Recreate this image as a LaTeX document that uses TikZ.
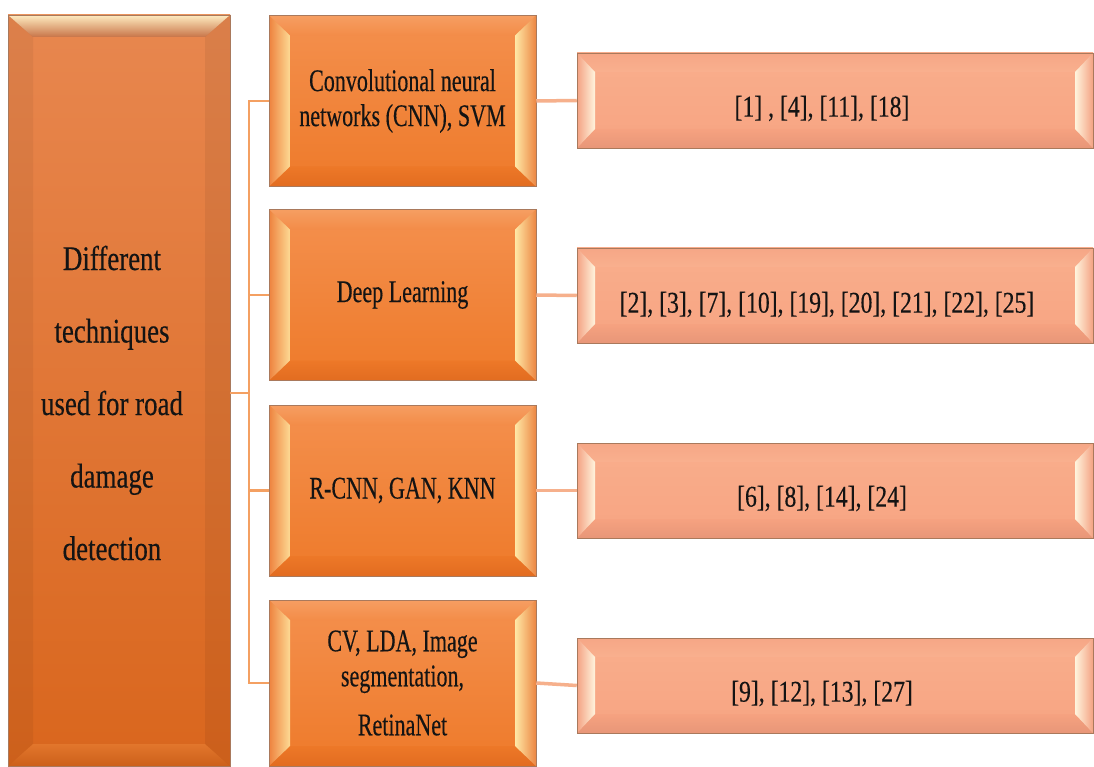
\documentclass[tikz,border=0pt]{standalone}
\usepackage{fontspec}
\setmainfont{Liberation Serif}
\newfontfamily\fLeft[FakeStretch=0.78,FakeBold=0.3]{Liberation Serif}
\newfontfamily\fMid[FakeStretch=0.70,FakeBold=0.3]{Liberation Serif}
\newfontfamily\fRight[FakeStretch=0.79,FakeBold=0.3]{Liberation Serif}
\newcommand\shiftbox[3]{\raisebox{-#2}[\height][\depth]{#3\hspace*{#1}}}
\newcommand\bevcoords[2]{%
  \path (path picture bounding box.north west) coordinate (o1)
        (path picture bounding box.north east) coordinate (o2)
        (path picture bounding box.south east) coordinate (o3)
        (path picture bounding box.south west) coordinate (o4)
        ([xshift=#1,yshift=-#2]path picture bounding box.north west) coordinate (i1)
        ([xshift=-#1,yshift=-#2]path picture bounding box.north east) coordinate (i2)
        ([xshift=-#1,yshift=#2]path picture bounding box.south east) coordinate (i3)
        ([xshift=#1,yshift=#2]path picture bounding box.south west) coordinate (i4);}
\definecolor{bordc}{HTML}{A9795C}
\definecolor{connA}{HTML}{F4A062}
\definecolor{connB}{HTML}{F6B08C}
\definecolor{txt}{HTML}{141414}
\tikzset{
  leftbox/.style={rectangle, draw=bordc, line width=0.5pt, inner sep=0pt,
    minimum width=222pt, minimum height=751pt,
    top color={rgb,255:red,232;green,135;blue,79}, bottom color={rgb,255:red,217;green,102;blue,29},
    text=txt, font=\fLeft\fontsize{34.5}{72.5}\selectfont,
    path picture={\bevcoords{25pt}{22pt}
      \shade[top color={rgb,255:red,254;green,235;blue,192}, middle color={rgb,255:red,243;green,178;blue,122}, bottom color={rgb,255:red,200;green,116;blue,72}] (o1)--(o2)--(i2)--(i1)--cycle;
      \shade[top color={rgb,255:red,226;green,118;blue,44}, middle color={rgb,255:red,255;green,180;blue,102}, bottom color={rgb,255:red,204;green,96;blue,26}] (o4)--(o3)--(i3)--(i4)--cycle;
      \fill[black, opacity=0.05] (o1)--(i1)--(i4)--(o4)--cycle;
      \fill[black, opacity=0.06] (o2)--(i2)--(i3)--(o3)--cycle;
    }},
  midbox/.style={rectangle, draw=bordc, line width=0.5pt, inner sep=0pt,
    minimum width=267pt, minimum height=171pt,
    top color={rgb,255:red,244;green,144;blue,78}, bottom color={rgb,255:red,238;green,122;blue,42},
    text=txt, align=center, font=\fMid\fontsize{31.5}{35}\selectfont,
    path picture={\bevcoords{21pt}{20pt}
      \shade[top color={rgb,255:red,246;green,158;blue,98}, bottom color={rgb,255:red,243;green,140;blue,72}] (o1)--(o2)--(i2)--(i1)--cycle;
      \shade[top color={rgb,255:red,237;green,120;blue,40}, bottom color={rgb,255:red,226;green,108;blue,32}] (o4)--(o3)--(i3)--(i4)--cycle;
      \shade[left color={rgb,255:red,238;green,130;blue,62}, middle color={rgb,255:red,245;green,160;blue,86}, right color={rgb,255:red,253;green,218;blue,148}] (o1)--(i1)--(i4)--(o4)--cycle;
      \shade[left color={rgb,255:red,255;green,232;blue,166}, middle color={rgb,255:red,249;green,184;blue,112}, right color={rgb,255:red,236;green,134;blue,66}] (o2)--(i2)--(i3)--(o3)--cycle;
    }},
  rightbox/.style={rectangle, draw=bordc, line width=0.5pt, inner sep=0pt,
    minimum width=516pt, minimum height=95pt,
    top color={rgb,255:red,249;green,174;blue,140}, bottom color={rgb,255:red,247;green,164;blue,130},
    text=txt, font=\fRight\fontsize{30}{34}\selectfont,
    path picture={\bevcoords{18pt}{19pt}
      \shade[top color={rgb,255:red,246;green,166;blue,134}, bottom color={rgb,255:red,249;green,176;blue,142}] (o1)--(o2)--(i2)--(i1)--cycle;
      \shade[top color={rgb,255:red,246;green,162;blue,128}, bottom color={rgb,255:red,232;green,150;blue,120}] (o4)--(o3)--(i3)--(i4)--cycle;
      \shade[left color={rgb,255:red,244;green,162;blue,131}, middle color={rgb,255:red,249;green,190;blue,158}, right color={rgb,255:red,255;green,244;blue,221}] (o1)--(i1)--(i4)--(o4)--cycle;
      \shade[left color={rgb,255:red,255;green,244;blue,221}, middle color={rgb,255:red,251;green,205;blue,176}, right color={rgb,255:red,244;green,162;blue,131}] (o2)--(i2)--(i3)--(o3)--cycle;
    }},
  connleft/.style={draw=connA, line width=2.5pt},
  connright/.style={draw=connB, line width=3.5pt}
}
\begin{document}
\begin{tikzpicture}[x=1pt,y=-1pt]
\useasboundingbox[fill=white] (0,0) rectangle (1094,767);

\coordinate (jx) at (249,393);

\node[leftbox] (L) at (119,390.5) {\shiftbox{14pt}{10pt}{\begin{tabular}{@{}c@{}}Different\\ techniques\\ used for road\\ damage\\ detection\end{tabular}}};

\node[midbox] (M1) at (402.5,101) {Convolutional neural\\networks (CNN), SVM};
\node[midbox] (M2) at (402.5,295) {Deep Learning};
\node[midbox] (M3) at (402.5,490.5) {R-CNN, GAN, KNN};
\node[midbox, minimum height=166pt] (M4) at (402.5,683) {CV, LDA, Image\\segmentation,\\[14pt]RetinaNet};

\node[rightbox] (R1) at (835,100.5) {\shiftbox{26pt}{8pt}{[1] , [4], [11], [18]}};
\node[rightbox] (R2) at (835,295.5) {\shiftbox{16pt}{9pt}{[2], [3], [7], [10], [19], [20], [21], [22], [25]}};
\node[rightbox] (R3) at (835,490.5) {\shiftbox{26pt}{8pt}{[6], [8], [14], [24]}};
\node[rightbox] (R4) at (835,685.5) {\shiftbox{26pt}{8pt}{[9], [12], [13], [27]}};

\draw[connleft] (jx -| L.east) -- (jx);
\draw[connleft] (M1.west) -- (M1.west -| jx) -- (M4.west -| jx) -- (M4.west);
\draw[connleft] (M2.west) -- (M2.west -| jx);
\draw[connleft] (M3.west) -- (M3.west -| jx);

\draw[connright] (M1.east) -- (R1.west);
\draw[connright] (M2.east) -- (R2.west);
\draw[connright] (M3.east) -- (R3.west);
\draw[connright] (M4.east) -- (R4.west);
\end{tikzpicture}
\end{document}
